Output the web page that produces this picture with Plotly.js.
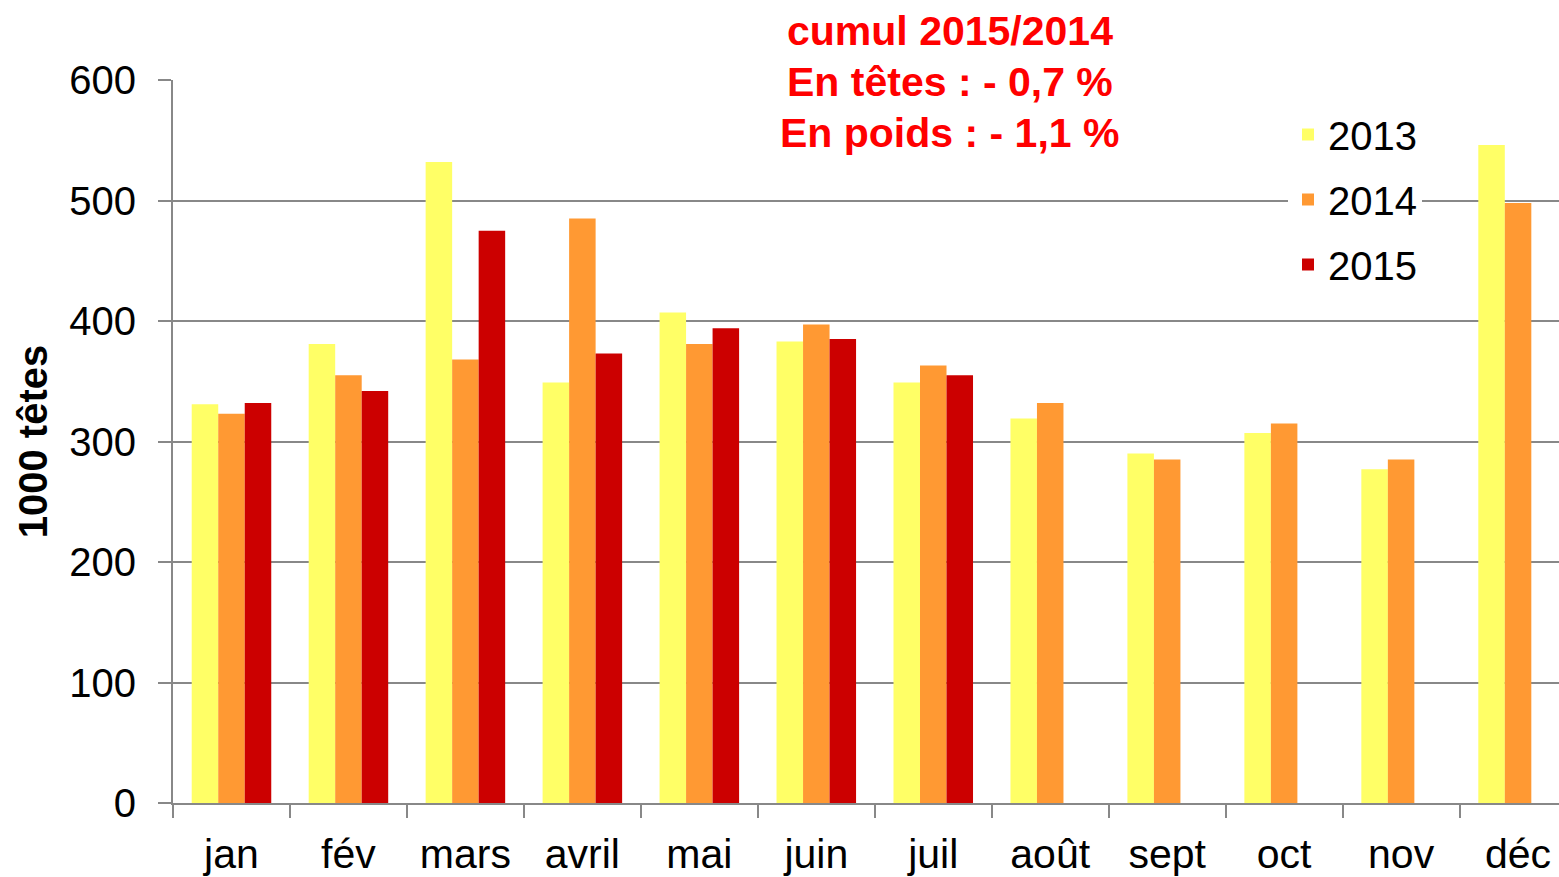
<!DOCTYPE html>
<html>
<head>
<meta charset="utf-8">
<script src="https://cdn.plot.ly/plotly-3.0.1.min.js"></script>
<style>html,body{margin:0;padding:0;background:#fff;}#chart{width:1559px;height:877px;}</style>
</head>
<body>
<div id="chart"></div>
<script>
const months = ["jan","fév","mars","avril","mai","juin","juil","août","sept","oct","nov","déc"];
const v2013 = [331, 381, 532, 349, 407, 383, 349, 319, 290, 307, 277, 546];
const v2014 = [323, 355, 368, 485, 381, 397, 363, 332, 285, 315, 285, 498];
const v2015 = [332, 342, 475, 373, 394, 385, 355, null, null, null, null, null];
const seriesNames = ["2013","2014","2015"];
const seriesColors = ["#FFFF66","#FF9933","#CC0000"];
const noteLines = ["cumul 2015/2014","En têtes : - 0,7 %","En poids : - 1,1 %"];

const allVals = [v2013, v2014, v2015];
const traces = allVals.map((vals, i) => ({
  type: "bar",
  name: seriesNames[i],
  x: months,
  y: vals,
  legendgroup: "g" + i,
  marker: {color: seriesColors[i], line: {width: 0}},
  hoverinfo: "x+y+name"
}));

const noteY = [31, 82, 133];
const annotations = noteLines.map((t, i) => ({
  text: "<b>" + t + "</b>",
  xref: "paper", yref: "paper",
  x: (950 - 173) / 1386,
  y: (803 - noteY[i]) / 723,
  xanchor: "center", yanchor: "middle",
  showarrow: false,
  font: {family: "Liberation Sans, Arial, sans-serif", size: 41, color: "#FF0000"}
}));

const layout = {
  width: 1559, height: 877,
  margin: {l: 173, r: 0, t: 80, b: 74, pad: 0},
  paper_bgcolor: "#ffffff",
  plot_bgcolor: "#ffffff",
  font: {family: "Liberation Sans, Arial, sans-serif", color: "#000"},
  barmode: "group",
  bargap: 0.32,
  bargroupgap: 0,
  showlegend: true,
  legend: {
    x: (1288 - 173) / 1386, y: (803 - 102) / 723,
    xanchor: "left", yanchor: "top",
    bgcolor: "#ffffff",
    font: {size: 40, color: "#000"},
    traceorder: "grouped",
    tracegroupgap: 10,
    itemwidth: 30
  },
  xaxis: {
    type: "category",
    range: [-0.5, 11.35],
    tickson: "boundaries",
    ticks: "outside",
    ticklen: 13,
    tickwidth: 2,
    tickcolor: "#888888",
    showline: true,
    linecolor: "#888888",
    linewidth: 2,
    showgrid: false,
    tickfont: {size: 41, color: "#000"},
    ticklabelstandoff: 14,
    automargin: false
  },
  yaxis: {
    range: [0, 600],
    dtick: 100,
    ticks: "outside",
    ticklen: 13,
    tickwidth: 2,
    tickcolor: "#888888",
    showline: true,
    linecolor: "#888888",
    linewidth: 2,
    showgrid: true,
    gridcolor: "#888888",
    gridwidth: 2,
    zeroline: false,
    tickfont: {size: 40, color: "#000"},
    ticklabelstandoff: 14,
    title: {text: "<b>1000 têtes</b>", font: {size: 40, color: "#000"}, standoff: 9},
    automargin: false
  },
  annotations: annotations
};

Plotly.newPlot("chart", traces, layout, {displayModeBar: false, staticPlot: true});
</script>
</body>
</html>
